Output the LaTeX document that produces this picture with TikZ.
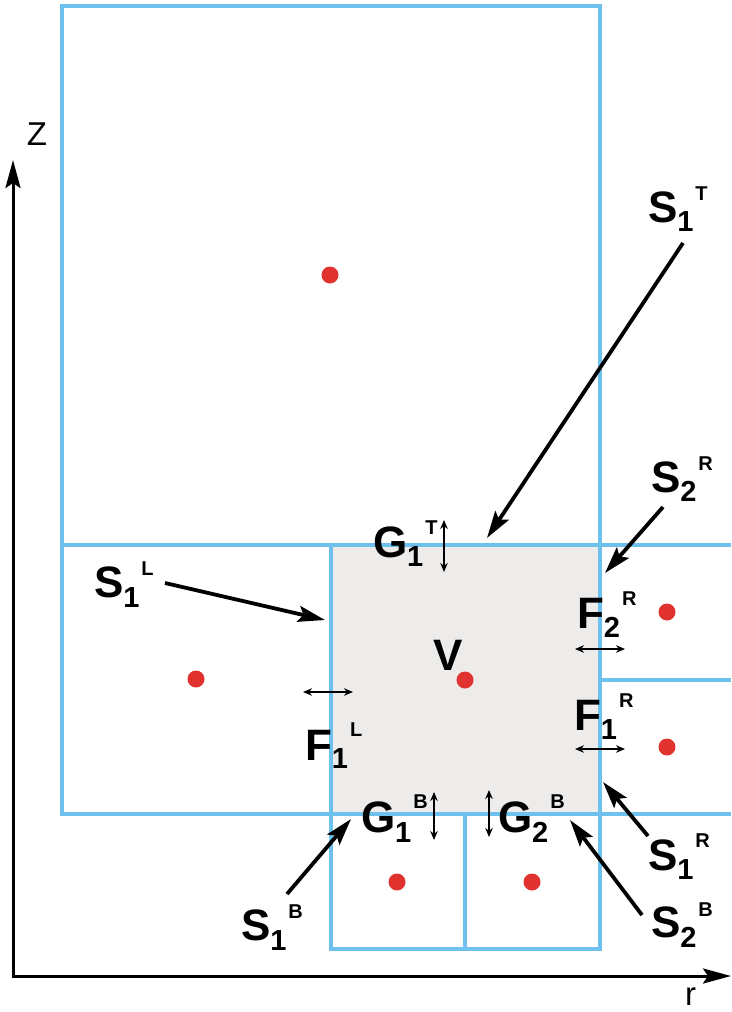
\documentclass[tikz,border=0pt]{standalone}
\usepackage{fontspec}
\setmainfont{Liberation Sans}
\usetikzlibrary{arrows.meta}
\definecolor{boxblue}{RGB}{110,193,236}
\definecolor{cellgray}{RGB}{237,236,235}
\definecolor{dotred}{RGB}{224,50,46}
\newcommand\mylab[5]{{\fontsize{44}{44}\selectfont\bfseries #1}\raisebox{#4}{\fontsize{29}{29}\selectfont\bfseries #2}\kern2pt\raisebox{#5}{\fontsize{20}{20}\selectfont\bfseries #3}}
\tikzset{
 cell/.style={draw=boxblue, line width=3.5pt},
 dot/.style={circle, fill=dotred, minimum size=17pt, inner sep=0pt},
 axis/.style={line width=3pt, -{Stealth[length=28pt,width=15pt,inset=5pt]}},
 callout/.style={line width=3.8pt, -{Stealth[length=27pt,width=16pt,inset=5pt]}},
 flux/.style={line width=1.6pt, {Stealth[length=9pt,width=7.5pt]}-{Stealth[length=9pt,width=7.5pt]}},
 lbl/.style={anchor=base west, inner sep=0pt, outer sep=0pt},
}
\begin{document}
\begin{tikzpicture}[x=1pt,y=-1pt]
\useasboundingbox (0,0) rectangle (731,1012);
% cells
\fill[cellgray] (331,545) rectangle (600,814);
\draw[cell] (62,6) rectangle (600,545);
\draw[cell] (62,545) rectangle (331,814);
\draw[cell] (331,545) rectangle (600,814);
\draw[cell] (600,545) -- (731,545);
\draw[cell] (600,680) -- (731,680);
\draw[cell] (600,814) -- (731,814);
\draw[cell] (331,814) rectangle (465,949);
\draw[cell] (465,814) rectangle (600,949);
% dots
\node[dot] (dtop) at (330,275) {};
\node[dot] (dleft) at (196,679) {};
\node[dot] (dv) at (465,680) {};
\node[dot] (dr2) at (667,612) {};
\node[dot] (dr1) at (667,747) {};
\node[dot] (db1) at (397,882) {};
\node[dot] (db2) at (532,882) {};
% axes
\coordinate (o) at (13,976);
\coordinate (ztip) at (13,160);
\coordinate (ostart) at (11.5,976);
\coordinate (rtip) at (731,976);
\draw[axis] (o) -- (ztip);
\draw[axis] (ostart) -- (rtip);
\node[lbl] (zlab) at (27,145) {\fontsize{33}{33}\selectfont Z};
\node[lbl] (rlab) at (685,1005) {\fontsize{33}{33}\selectfont r};
% flux double arrows
\coordinate (g1ta) at (444,520); \coordinate (g1tb) at (444,572);
\draw[flux] (g1ta) -- (g1tb);
\coordinate (f1la) at (303,692); \coordinate (f1lb) at (353,692);
\draw[flux] (f1la) -- (f1lb);
\coordinate (f2ra) at (575,649); \coordinate (f2rb) at (625,649);
\draw[flux] (f2ra) -- (f2rb);
\coordinate (f1ra) at (575,749); \coordinate (f1rb) at (625,749);
\draw[flux] (f1ra) -- (f1rb);
\coordinate (g1ba) at (434,792); \coordinate (g1bb) at (434,840);
\draw[flux] (g1ba) -- (g1bb);
\coordinate (g2ba) at (489,790); \coordinate (g2bb) at (489,837);
\draw[flux] (g2ba) -- (g2bb);
% callout arrows
\coordinate (s1tt) at (683,243); \coordinate (s1th) at (487,538);
\draw[callout] (s1tt) -- (s1th);
\coordinate (s2rt) at (663,507); \coordinate (s2rh) at (605,573);
\draw[callout] (s2rt) -- (s2rh);
\coordinate (s1lt) at (165,583); \coordinate (s1lh) at (325,620);
\draw[callout] (s1lt) -- (s1lh);
\coordinate (s1rt) at (648,836); \coordinate (s1rh) at (603,782);
\draw[callout] (s1rt) -- (s1rh);
\coordinate (s2bt) at (642,915); \coordinate (s2bh) at (570,820);
\draw[callout] (s2bt) -- (s2bh);
\coordinate (s1bt) at (287,894); \coordinate (s1bh) at (351,819);
\draw[callout] (s1bt) -- (s1bh);
% labels
\node[lbl] (ls1t) at (648,222) {\mylab{S}{1}{T}{-9pt}{22pt}};
\node[lbl] (lg1t) at (373,557) {\mylab{G}{1}{T}{-9pt}{23pt}};
\node[lbl] (ls2r) at (651,492) {\mylab{S}{2}{R}{-9pt}{22pt}};
\node[lbl] (ls1l) at (94,597) {\mylab{S}{1}{L}{-10pt}{22pt}};
\node[lbl] (lf2r) at (577,628) {\mylab{F}{2}{R}{-9pt}{23pt}};
\node[lbl] (lv) at (433,670) {\fontsize{44}{44}\selectfont\bfseries V};
\node[lbl] (lf1r) at (574,730) {\mylab{F}{1}{R}{-9pt}{23pt}};
\node[lbl] (lf1l) at (305,760) {\mylab{F}{1}{L}{-8pt}{24pt}};
\node[lbl] (lg1b) at (361,832) {\mylab{G}{1}{B}{-10pt}{24pt}};
\node[lbl] (lg2b) at (498,832) {\mylab{G}{2}{B}{-10pt}{24pt}};
\node[lbl] (ls1r) at (648,870) {\mylab{S}{1}{R}{-9pt}{23pt}};
\node[lbl] (ls2b) at (651,937) {\mylab{S}{2}{B}{-10pt}{21pt}};
\node[lbl] (ls1b) at (241,940) {\mylab{S}{1}{B}{-10pt}{22pt}};
\end{tikzpicture}
\end{document}
